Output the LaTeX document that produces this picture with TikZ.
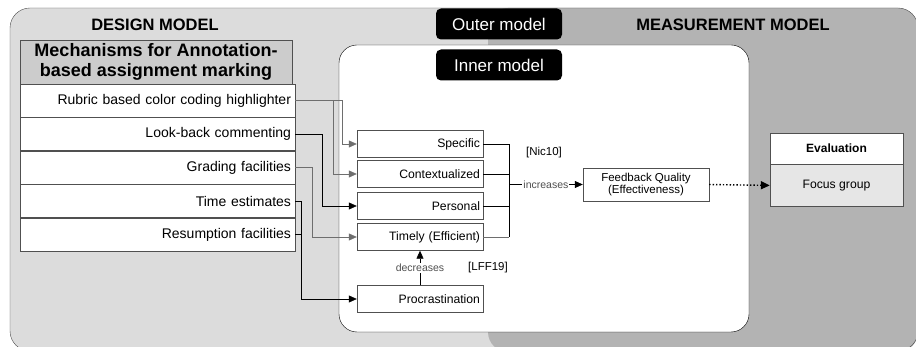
\documentclass[tikz,border=0pt]{standalone}
\usepackage{fontspec}
\setmainfont{Liberation Sans}
\usepackage{tikz}
\usetikzlibrary{arrows.meta, positioning, calc}
\usepackage{xcolor}
\definecolor{designgray}{RGB}{220,220,220}
\definecolor{measuregray}{RGB}{179,179,179}
\definecolor{headgray}{RGB}{204,204,204}
\definecolor{focusgray}{RGB}{230,230,230}
\definecolor{linegray}{RGB}{110,110,110}
\definecolor{edgegray}{RGB}{80,80,80}

\begin{document}
\begin{tikzpicture}[x=1pt, y=-1pt,
			modeltitle/.style={font=\fontsize{16.5}{18}\selectfont\bfseries},
			tag/.style={fill=black, text=white, rounded corners=5pt, minimum width=126pt, minimum height=31pt, inner sep=0pt, font=\fontsize{17}{18}\selectfont},
			mechrow/.style={draw=edgegray, fill=white, minimum width=275pt, minimum height=33.4pt, text width=267pt, align=right, inner sep=4pt, font=\fontsize{14}{16}\selectfont},
			factor/.style={draw=edgegray, fill=white, minimum width=126pt, minimum height=27pt, text width=120pt, align=right, inner sep=3pt, font=\fontsize{12.2}{14}\selectfont},
			smalllabel/.style={font=\fontsize{10.5}{12}\selectfont, text=edgegray, inner sep=1pt},
			citelabel/.style={font=\fontsize{11.5}{13}\selectfont},
			arrowstyle/.style={-{Triangle[length=8pt, width=7pt]}, semithick},
			plainline/.style={semithick}
		]
		\useasboundingbox (0,0) rectangle (916,347);
		\clip (0,0) rectangle (916,347);
		% two model areas
		\fill[designgray, rounded corners=20pt] (10,8) rectangle (918,351);
		\fill[measuregray, rounded corners=20pt] (488,8) rectangle (918,352);
		\draw[edgegray, rounded corners=20pt] (10,8) rectangle (918,351);
		\node[modeltitle] (design) at (155,25) {DESIGN MODEL};
		\node[modeltitle] (measure) at (733,25) {MEASUREMENT MODEL};
		\node[tag] (outer) at (499,24) {Outer model};
		% inner model
		\draw[black, fill=white, rounded corners=18pt] (339,45) rectangle (749,332);
		\node[tag] (inner) at (499,65) {Inner model};

		% mechanisms
		\node[draw=edgegray, fill=headgray, minimum width=272pt, minimum height=44pt, inner sep=0pt, align=center, font=\fontsize{18}{20}\selectfont\bfseries] (mech) at (156,62) {Mechanisms for Annotation-\\based assignment marking};
		\node[mechrow] (rubric) at (157.5,100.5) {Rubric based color coding highlighter};
		\node[mechrow] (lookback) at (157.5,134) {Look-back commenting};
		\node[mechrow] (grading) at (157.5,167.5) {Grading facilities};
		\node[mechrow] (timeest) at (157.5,201) {Time estimates};
		\node[mechrow] (resume) at (157.5,234.5) {Resumption facilities};

		% quality factors
		\node[factor] (specific) at (420,144) {Specific};
		\node[factor] (context) at (420,174) {Contextualized};
		\node[factor] (personal) at (420,206) {Personal};
		\node[factor] (timely) at (420,237) {Timely (Efficient)};
		\node[factor] (procr) at (420,299) {Procrastination};

		\node[draw=edgegray, fill=white, minimum width=126pt, minimum height=33pt, inner sep=0pt, align=center, font=\fontsize{11.5}{12.5}\selectfont] (quality) at (646,184.5) {Feedback Quality\\(Effectiveness)};
		\node[draw=edgegray, fill=white, minimum width=133pt, minimum height=31pt, inner sep=0pt, font=\fontsize{12}{14}\selectfont\bfseries] (evaluation) at (836.5,148.5) {Evaluation};
		\node[draw=edgegray, fill=focusgray, minimum width=133pt, minimum height=42pt, inner sep=0pt, below=0pt of evaluation, font=\fontsize{12.2}{14}\selectfont] (focus) {Focus group};

		\node[citelabel] (nic) at (544,153) {[Nic10]};
		\node[citelabel] (lff) at (488,268) {[LFF19]};

		% mechanisms to factors
		\draw[arrowstyle, linegray] (rubric.east) -- ++(47,0) |- (specific.west);
		\draw[arrowstyle, linegray] (rubric.east) -- ++(38,0) |- (context.west);
		\draw[arrowstyle] (lookback.east) -- ++(27,0) |- (personal.west);
		\draw[arrowstyle, linegray] (grading.east) -- ++(17,0) |- (timely.west);
		\draw[arrowstyle] (timeest.east) -- ++(6,0) |- (procr.west);
		\draw[plainline] (resume.east) -- ++(6,0);

		% factors to feedback quality
		\coordinate (brk) at (509,184.5);
		\draw[plainline] (specific.east) -- (specific.east -| brk) -- (timely.east -| brk);
		\draw[plainline] (context.east) -- (context.east -| brk);
		\draw[plainline] (personal.east) -- (personal.east -| brk);
		\draw[plainline, linegray] (timely.east) -- (timely.east -| brk);
		\draw[arrowstyle] (brk) -- node[smalllabel, fill=white] {increases} (quality.west);
		\draw[arrowstyle] (procr.north) -- node[smalllabel, fill=white] {decreases} (timely.south);
		\draw[-{Triangle[length=9pt, width=8pt]}, line width=1.4pt, dotted] (quality.east) -- (focus.west);
	\end{tikzpicture}
\end{document}
